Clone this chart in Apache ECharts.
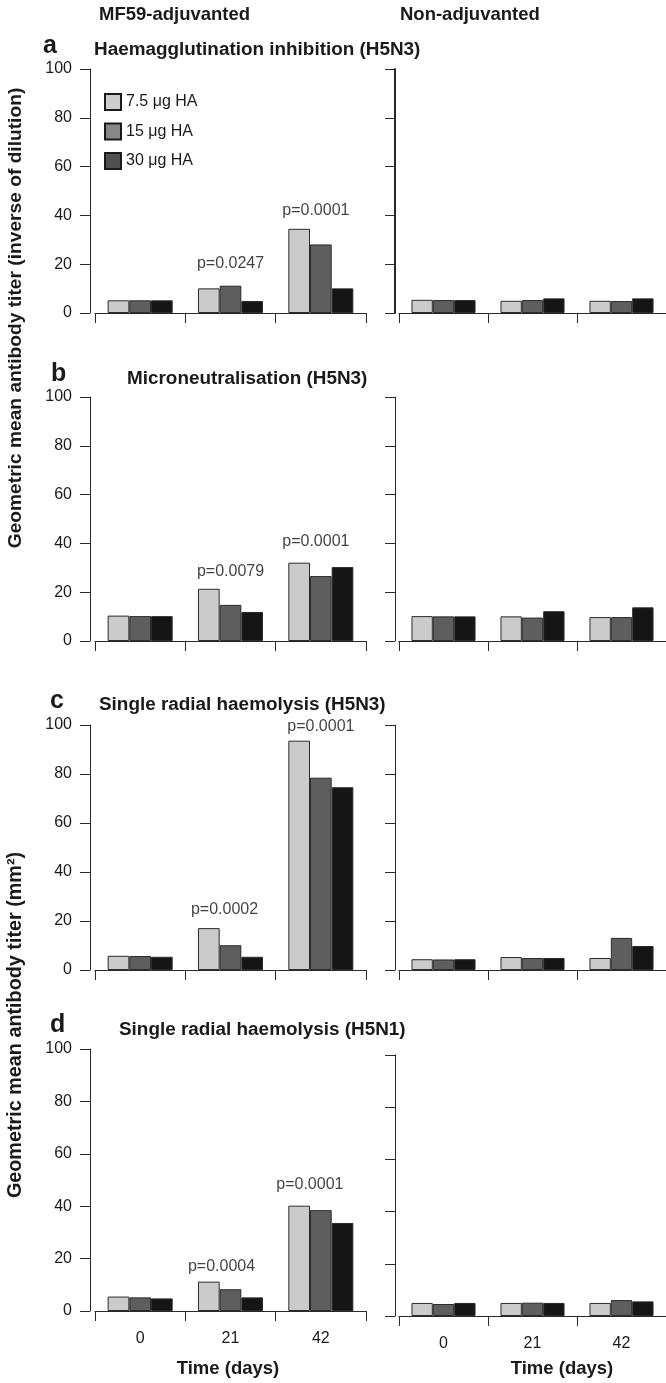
<!DOCTYPE html>
<html>
<head>
<meta charset="utf-8">
<script src="https://cdn.jsdelivr.net/npm/echarts@6/dist/echarts.min.js"></script>
<style>
html,body{margin:0;padding:0;background:#fff;}
#chart{width:666px;height:1383px;}
</style>
</head>
<body>
<div id="chart"></div>
<script>
// ---------- DATA ----------
const categories = ['0', '21', '42'];
const doseNames = ['7.5 μg HA', '15 μg HA', '30 μg HA'];
const yTicks = [0, 20, 40, 60, 80, 100];

// values: [dose][time] for each panel
const hiAdjuvanted   = [[5.2, 10.1, 34.5], [5.2, 11.2, 28.1], [5.2, 4.9, 10.1]];
const hiNonAdj       = [[5.4, 5.0, 5.0],   [5.3, 5.3, 4.9],   [5.3, 6.0, 6.0]];
const mnAdjuvanted   = [[10.4, 21.4, 32.1], [10.2, 14.8, 26.6], [10.2, 11.9, 30.3]];
const mnNonAdj       = [[10.2, 10.1, 9.8], [10.1, 9.6, 9.8],  [10.1, 12.2, 13.8]];
const srhN3Adjuvanted= [[5.8, 17.1, 93.6], [5.7, 10.1, 78.5], [5.4, 5.4, 74.6]];
const srhN3NonAdj    = [[4.4, 5.3, 4.9],   [4.3, 4.9, 13.1],  [4.4, 4.9, 9.8]];
const srhN1Adjuvanted= [[5.5, 11.2, 40.2], [5.2, 8.3, 38.5],  [4.8, 5.2, 33.6]];
const srhN1NonAdj    = [[5.0, 5.0, 5.0],   [4.6, 5.1, 6.1],   [5.0, 5.0, 5.6]];

const panelLetters = ['a', 'b', 'c', 'd'];
const panelTitles = ['Haemagglutination inhibition (H5N3)', 'Microneutralisation (H5N3)',
                     'Single radial haemolysis (H5N3)', 'Single radial haemolysis (H5N1)'];
const columnTitles = ['MF59-adjuvanted', 'Non-adjuvanted'];
const yAxisTitles = ['Geometric mean antibody titer (inverse of dilution)', 'Geometric mean antibody titer (mm²)'];
const xAxisTitle = 'Time (days)';

// p-value annotations (time category, label height in data units)
const pTexts  = [['p=0.0247', 'p=0.0001'], ['p=0.0079', 'p=0.0001'], ['p=0.0002', 'p=0.0001'], ['p=0.0004', 'p=0.0001']];
const pTimes  = ['21', '42'];
const pLabelY = [[20.3, 41.8], [28.5, 40.8], [24.7, 99.4], [17.0, 48.1]];

const leftData  = [hiAdjuvanted, mnAdjuvanted, srhN3Adjuvanted, srhN1Adjuvanted];
const rightData = [hiNonAdj, mnNonAdj, srhN3NonAdj, srhN1NonAdj];

// ---------- LAYOUT / STYLE ----------
const FONT = '"Liberation Sans", Arial, Helvetica, sans-serif';
const barColors = ['#cbcbcb', '#5e5e5e', '#151515'];
const legendColors = ['#cdcdcd', '#878787', '#505050'];
const axisColor = '#2a2a2a';
const rowBoxes = [
  {left: [69, 313], right: [69, 313]},
  {left: [397, 641], right: [397, 641]},
  {left: [725, 970], right: [725, 970]},
  {left: [1049, 1311], right: [1055, 1316]}
];
const colX = [{left: 95, width: 271, yOff: 5}, {left: 399, width: 271, yOff: 4}];
const pLabelDx = [[0, -5], [0, -5], [-6, 0], [-9, -11]];

const grids = [], xAxes = [], yAxes = [], series = [];
let gi = 0;
for (let r = 0; r < 4; r++) {
  for (let c = 0; c < 2; c++) {
    const box = c === 0 ? rowBoxes[r].left : rowBoxes[r].right;
    grids.push({left: colX[c].left, width: colX[c].width, top: box[0], height: box[1] - box[0]});
    const last = r === 3;
    xAxes.push({
      type: 'category', gridIndex: gi, data: categories, boundaryGap: true,
      axisLine: {show: true, lineStyle: {color: axisColor, width: 1}},
      axisTick: {show: true, length: 10, lineStyle: {color: axisColor, width: 1}},
      axisLabel: {show: last, margin: 20, fontSize: 16, color: '#1a1a1a', fontFamily: FONT},
      splitLine: {show: false}
    });
    yAxes.push({
      type: 'value', gridIndex: gi, min: 0, max: 100, interval: 20, offset: colX[c].yOff,
      axisLine: {show: true, lineStyle: {color: axisColor, width: (r === 0 && c === 1) ? 2 : 1}},
      axisTick: {show: true, length: 10, lineStyle: {color: axisColor, width: 1}},
      axisLabel: {show: c === 0, margin: 18, fontSize: 16, color: '#1a1a1a', fontFamily: FONT,
                  customValues: yTicks},
      splitLine: {show: false}
    });
    const vals = c === 0 ? leftData[r] : rightData[r];
    for (let k = 0; k < 3; k++) {
      series.push({
        type: 'bar', name: doseNames[k], xAxisIndex: gi, yAxisIndex: gi,
        data: vals[k], barWidth: '24%', barGap: '0%',
        itemStyle: {color: barColors[k], borderColor: '#2b2b2b', borderWidth: 1},
        silent: true
      });
    }
    if (c === 0) {
      series.push({
        type: 'scatter', xAxisIndex: gi, yAxisIndex: gi, symbolSize: 0, silent: true,
        data: pTimes.map((t, j) => ({
          value: [t, pLabelY[r][j]], name: pTexts[r][j],
          label: {offset: [pLabelDx[r][j], 0]}
        })),
        label: {show: true, position: 'inside', formatter: '{b}', fontSize: 16, color: '#111', fontFamily: FONT}
      });
    }
    gi++;
  }
}

function txt(text, x, y, font, align, rot) {
  return {
    type: 'text', x: x, y: y, rotation: rot || 0, silent: true,
    style: {text: text, x: 0, y: 0, font: font, fill: '#1a1a1a',
            align: align || 'left', verticalAlign: 'middle',
            textAlign: align || 'left', textVerticalAlign: 'middle'}
  };
}
const graphics = [];
graphics.push(txt(columnTitles[0], 99, 14.5, 'bold 18.5px ' + FONT));
graphics.push(txt(columnTitles[1], 400, 14.5, 'bold 18.5px ' + FONT));
const letterY = [46.5, 374.5, 701.5, 1025.5];
const letterX = [43, 51, 50, 50];
const titleY = [49.7, 378.7, 705, 1029.7];
const titleX = [94, 127, 99, 119];
for (let r = 0; r < 4; r++) {
  graphics.push(txt(panelLetters[r], letterX[r], letterY[r], 'bold 25px ' + FONT));
  graphics.push(txt(panelTitles[r], titleX[r], titleY[r], 'bold 18.9px ' + FONT));
}
graphics.push(txt(yAxisTitles[0], 16, 318, 'bold 19.2px ' + FONT, 'center', Math.PI / 2));
graphics.push(txt(yAxisTitles[1], 16, 1025, 'bold 19.8px ' + FONT, 'center', Math.PI / 2));
graphics.push(txt(xAxisTitle, 228, 1368.6, 'bold 18.5px ' + FONT, 'center'));
graphics.push(txt(xAxisTitle, 562, 1368.6, 'bold 18.5px ' + FONT, 'center'));

const chart = echarts.init(document.getElementById('chart'), null, {renderer: 'canvas'});
chart.setOption({
  animation: false,
  backgroundColor: '#ffffff',
  textStyle: {fontFamily: FONT},
  grid: grids, xAxis: xAxes, yAxis: yAxes, series: series,
  legend: {
    orient: 'vertical', left: 104, top: 93, icon: 'rect',
    itemWidth: 16, itemHeight: 16, itemGap: 11.5, selectedMode: false, padding: 0,
    textStyle: {fontSize: 16, color: '#1a1a1a', fontFamily: FONT},
    data: doseNames.map((n, k) => ({name: n, itemStyle: {color: legendColors[k], borderColor: '#1a1a1a', borderWidth: 2}}))
  },
  graphic: graphics
});
</script>
</body>
</html>
